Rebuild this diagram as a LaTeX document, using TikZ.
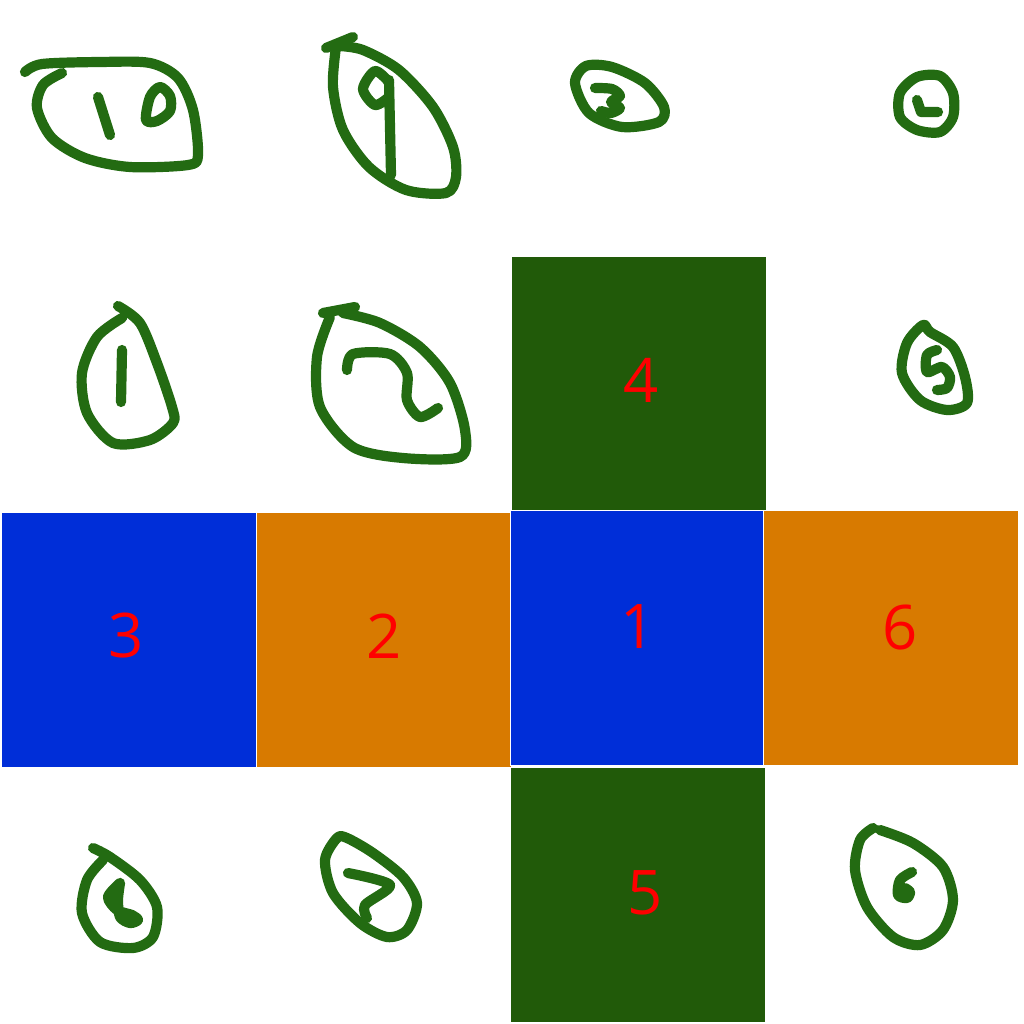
\documentclass[tikz,border=0pt]{standalone}
\usepackage{fontspec}
\setmainfont{Open Sans}
\definecolor{leafgreen}{HTML}{215A09}
\definecolor{inkgreen}{HTML}{236B12}
\definecolor{faceblue}{HTML}{002ED8}
\definecolor{faceorange}{HTML}{D87A00}
\tikzset{
  face/.style={rectangle, inner sep=0pt, draw=white, line width=0.3pt,
    minimum width=2.55cm, minimum height=2.55cm},
  num/.style={text=red, font=\fontsize{17.5}{17.5}\selectfont, inner sep=0pt},
  pen/.style={inkgreen, line width=2.9pt, line cap=round, line join=round}
}

\begin{document}
\begin{tikzpicture}[x=0.01cm, y=-0.01cm]
  \useasboundingbox (0,0) rectangle (1024,1024);

  % the six faces of the net
  \node[face, fill=leafgreen] (face4) at (639,384) {};
  \node[face, fill=faceblue] (face3) at (129,640) {};
  \node[face, fill=faceorange] (face2) at (384,640) {};
  \node[face, fill=faceblue] (face1) at (638,638) {};
  \node[face, fill=faceorange] (face6) at (891,638) {};
  \node[face, fill=leafgreen] (face5) at (638,895) {};

  \node[num] (num4) at (641,380) {4};
  \node[num] (num3) at (126,636) {3};
  \node[num] (num2) at (384,636) {2};
  \node[num] (num1) at (638,627) {1};
  \node[num] (num6) at (900,628) {6};
  \node[num] (num5) at (645,893) {5};

  % hand drawn marks: 10
  \draw[pen] plot[smooth] coordinates {(25,72) (42,64) (100,62) (150,63) (178,78) (193,110)
    (198,155) (188,165) (130,167) (85,158) (52,138) (37,108) (43,85) (62,73)};
  \draw[pen] (98,97) -- (110,135);
  \draw[pen] plot[smooth cycle] coordinates {(146,120) (150,97) (160,87) (170,96) (170,111) (157,121)};

  % 9
  \draw[pen] (326,48) -- (353,37);
  \draw[pen] plot[smooth] coordinates {(336,47) (333,87) (343,130) (369,167) (406,190) (446,193)
    (456,177) (453,147) (433,107) (399,70) (363,50) (339,46)};
  \draw[pen] plot[smooth] coordinates {(389,82) (375,71) (363,89) (375,105) (389,97)};
  \draw[pen] (389,80) -- (391,175);

  % 3
  \draw[pen] plot[smooth cycle] coordinates {(575,83) (586,66) (612,67) (645,83) (664,107)
    (659,122) (622,127) (589,113)};
  \draw[pen] plot[smooth] coordinates {(595,88) (612,89) (620,96) (611,102) (620,108) (611,113) (601,111)};

  % little circle
  \draw[pen] plot[smooth cycle] coordinates {(900,93) (917,77) (940,76) (953,93) (953,117)
    (940,132) (917,130) (900,117)};
  \draw[pen] (917,100) -- (921,112) -- (938,112);

  % 1
  \draw[pen] plot[smooth] coordinates {(118,306) (140,323) (157,363) (172,407) (173,423)
    (150,440) (113,443) (87,413) (82,373) (97,337) (122,318)};
  \draw[pen] (122,350) -- (121,402);

  % 2
  \draw[pen] (323,313) -- (355,307);
  \draw[pen] plot[smooth] coordinates {(330,317) (317,357) (320,407) (353,447) (403,458)
    (460,457) (465,430) (450,383) (420,347) (380,323) (343,313)};
  \draw[pen] plot[smooth] coordinates {(347,370) (353,354) (390,354) (407,373) (407,400)
    (420,417) (438,408)};

  % 5
  \draw[pen] plot[smooth cycle] coordinates {(923,325) (907,343) (902,373) (920,400) (947,410)
    (967,403) (965,377) (953,347) (930,332)};
  \draw[pen] plot[smooth] coordinates {(937,350) (927,355) (927,372) (942,367) (950,377)
    (947,388) (937,390)};

  % 8
  \draw[pen] plot[smooth] coordinates {(93,848) (110,857) (140,880) (157,907) (153,937)
    (133,948) (100,942) (82,913) (87,880) (103,860)};
  \draw[pen] plot[smooth] coordinates {(120,883) (108,897) (117,910) (132,915) (138,920)
    (130,923) (120,917) (118,900) (120,883)};

  % 7
  \draw[pen] plot[smooth cycle] coordinates {(337,838) (325,860) (333,893) (360,923) (387,937)
    (407,930) (417,903) (403,877) (373,853) (347,838)};
  \draw[pen] plot[smooth] coordinates {(348,873) (390,885) (365,905) (367,918)};

  % 6
  \draw[pen] plot[smooth] coordinates {(880,830) (913,843) (943,867) (953,900) (943,930)
    (920,945) (893,937) (867,907) (855,870) (860,840) (873,828)};
  \draw[pen] plot[smooth] coordinates {(912,872) (900,880) (898,895) (907,898) (910,892) (905,888)};
\end{tikzpicture}
\end{document}
